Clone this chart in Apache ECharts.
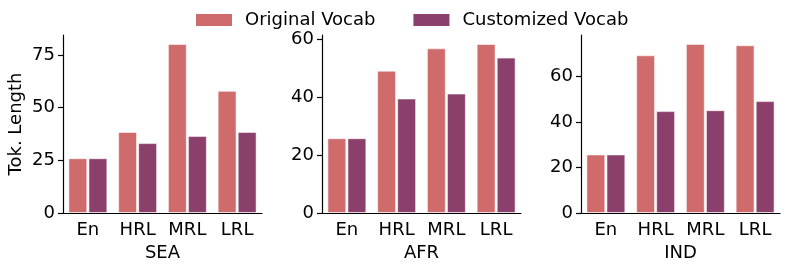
<!DOCTYPE html>
<html>
<head>
<meta charset="utf-8">
<script src="https://cdn.jsdelivr.net/npm/echarts@6/dist/echarts.min.js"></script>
<style>html,body{margin:0;padding:0;background:#fff}#c{width:789px;height:272px}</style>
</head>
<body>
<div id="c"></div>
<script>
const categories = ['En', 'HRL', 'MRL', 'LRL'];
const regions = ['SEA', 'AFR', 'IND'];
const seaOriginal = [26, 38.5, 80.2, 58];
const seaCustomized = [26, 33.2, 36.6, 38.5];
const afrOriginal = [25.8, 49.1, 56.8, 58.3];
const afrCustomized = [25.8, 39.5, 41.2, 53.6];
const indOriginal = [25.7, 69.2, 74.2, 73.6];
const indCustomized = [25.7, 44.7, 45.1, 49.1];
const yMax = [84.5, 61.4, 78.1];
const yInterval = [25, 20, 20];
const yTicks = [[0, 25, 50, 75], [0, 20, 40, 60], [0, 20, 40, 60]];

const originals = [seaOriginal, afrOriginal, indOriginal];
const customs = [seaCustomized, afrCustomized, indCustomized];
const FONT = 'DejaVu Sans';
const FS = 18;
const C1 = '#cf6b6b', C2 = '#8b406b';
const grids = [
  {left: 63, top: 35, width: 199, height: 178},
  {left: 322, top: 35, width: 199, height: 178},
  {left: 581, top: 35, width: 199, height: 178}
];
const xAxis = [], yAxis = [], series = [];
regions.forEach((r, i) => {
  xAxis.push({
    type: 'category', gridIndex: i, data: categories,
    name: r, nameLocation: 'middle', nameGap: 31,
    nameTextStyle: {fontFamily: FONT, fontSize: FS, color: '#000'},
    axisLine: {lineStyle: {color: '#000', width: 1.2}},
    axisTick: {alignWithLabel: true, length: 5, lineStyle: {color: '#000', width: 1.2}},
    axisLabel: {fontFamily: FONT, fontSize: FS, color: '#000', margin: 8}
  });
  yAxis.push({
    type: 'value', gridIndex: i, min: 0, max: yMax[i], interval: yInterval[i],
    name: i === 0 ? 'Tok. Length' : '', nameLocation: 'middle', nameGap: 38,
    nameTextStyle: {fontFamily: FONT, fontSize: FS, color: '#000'},
    splitLine: {show: false},
    axisLine: {show: true, lineStyle: {color: '#000', width: 1.2}},
    axisTick: {show: true, length: 5, customValues: yTicks[i], lineStyle: {color: '#000', width: 1.2}},
    axisLabel: {fontFamily: FONT, fontSize: FS, color: '#000', margin: 8, customValues: yTicks[i]}
  });
  series.push({
    type: 'bar', name: 'Original Vocab', xAxisIndex: i, yAxisIndex: i,
    data: originals[i], barWidth: '38%', barGap: '6%',
    itemStyle: {color: C1, borderColor: 'rgba(255,255,255,0.55)', borderWidth: 1}
  });
  series.push({
    type: 'bar', name: 'Customized Vocab', xAxisIndex: i, yAxisIndex: i,
    data: customs[i], barWidth: '38%', barGap: '6%',
    itemStyle: {color: C2, borderColor: 'rgba(255,255,255,0.55)', borderWidth: 1}
  });
});

const chart = echarts.init(document.getElementById('c'), null, {renderer: 'canvas'});
chart.setOption({
  animation: false,
  backgroundColor: '#fff',
  legend: {
    top: 6, left: 191, itemWidth: 36, itemHeight: 12, itemGap: 38, icon: 'rect',
    data: ['Original Vocab', 'Customized Vocab'],
    textStyle: {fontFamily: FONT, fontSize: FS, color: '#000', padding: [0, 0, 0, 8]},
    itemStyle: {borderWidth: 0}
  },
  grid: grids,
  xAxis: xAxis,
  yAxis: yAxis,
  series: series
});
</script>
</body>
</html>
